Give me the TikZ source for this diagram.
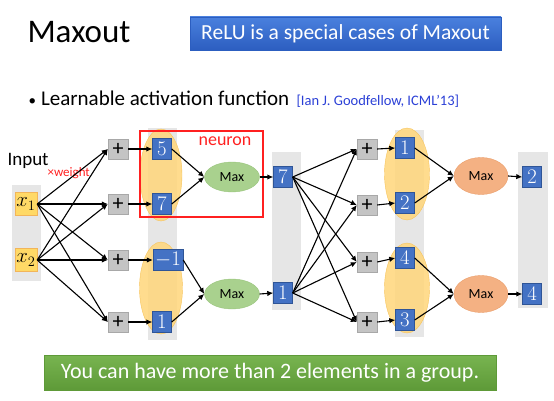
\documentclass[tikz,border=0pt]{standalone}
\usepackage{fontspec}
\setmainfont{Carlito}
\setsansfont{Carlito}
\usetikzlibrary{arrows.meta,positioning,shapes.geometric}
\definecolor{boxBlue}{HTML}{4472C4}
\definecolor{boxBlueDark}{HTML}{2F5597}
\definecolor{bandGray}{HTML}{E6E6E6}
\definecolor{plusGray}{HTML}{C4C4C4}
\definecolor{plusEdge}{HTML}{A8A8A8}
\definecolor{groupYellow}{HTML}{FFD67A}
\definecolor{groupEdge}{HTML}{F7C45C}
\definecolor{inYellow}{HTML}{FFD966}
\definecolor{inEdge}{HTML}{F2B55A}
\definecolor{maxGreen}{HTML}{A9D18E}
\definecolor{maxGreenEdge}{HTML}{98C47C}
\definecolor{maxOrange}{HTML}{F4B183}
\definecolor{maxOrangeEdge}{HTML}{EA9F6C}
\definecolor{citeBlue}{HTML}{2A3FD6}
\definecolor{neuronRed}{HTML}{FF2020}
\definecolor{titleBlueTop}{HTML}{4A80DE}
\definecolor{titleBlueBot}{HTML}{2C5EC0}
\definecolor{noteGreenTop}{HTML}{78B450}
\definecolor{noteGreenBot}{HTML}{5E9A38}

\begin{document}
\begin{tikzpicture}[
  x=1pt,y=-1pt,
  inbox/.style={draw=inEdge,fill=inYellow,minimum width=22,minimum height=23,inner sep=0pt,font=\fontsize{21}{22}\selectfont},
  plusbox/.style={draw=plusEdge,fill=plusGray,minimum width=20,minimum height=20,inner sep=0pt,font=\fontsize{22}{22}\selectfont},
  numbox/.style={draw=boxBlueDark,fill=boxBlue,text=white,minimum width=19,minimum height=21,inner sep=0pt,font=\fontsize{22}{22}\selectfont},
  group/.style={ellipse,draw=groupEdge,fill=groupYellow,fill opacity=.85,inner sep=0pt},
  maxg/.style={ellipse,draw=maxGreenEdge,fill=maxGreen,minimum width=55,minimum height=30,inner sep=0pt,font=\fontsize{14}{15}\selectfont},
  maxo/.style={ellipse,draw=maxOrangeEdge,fill=maxOrange,minimum width=54,minimum height=37,inner sep=0pt,font=\fontsize{14}{15}\selectfont},
  link/.style={-{Latex[length=6pt,width=5.5pt]},line width=1.1pt}
]
  \useasboundingbox (0,0) rectangle (554,401);

  % heading
  \node[anchor=base west,font=\fontsize{33}{36}\selectfont] (title) at (24,43) {Maxout};
  \node[top color=titleBlueTop,bottom color=titleBlueBot,draw=titleBlueBot,minimum width=311,minimum height=33,inner sep=0pt,text=white,font=\fontsize{21.5}{24}\selectfont] (relu) at (345.5,33.5) {ReLU is a special cases of Maxout};
  \node[anchor=base west,font=\fontsize{21}{24}\selectfont] (bullet) at (25,106) {{\fontsize{15}{15}\selectfont\textbullet}\hspace{5pt}Learnable activation function};
  \node[anchor=base west,text=citeBlue,font=\fontsize{14.5}{16}\selectfont] (cite) at (293,106) {[Ian J. Goodfellow, ICML’13]};

  % gray columns
  \fill[bandGray] (12,185) rectangle (41,281);
  \fill[bandGray] (148,128) rectangle (177,340);
  \fill[bandGray] (272,152) rectangle (301,310);
  \fill[bandGray] (395,130) rectangle (424,337);
  \fill[bandGray] (518,152) rectangle (548,308);

  % groups
  \node[group,minimum width=42,minimum height=92] (gA) at (161,175) {};
  \node[group,minimum width=43,minimum height=92] (gB) at (161,288) {};
  \node[group,minimum width=45,minimum height=92] (gC) at (407,174) {};
  \node[group,minimum width=45,minimum height=90] (gD) at (407,288) {};

  % input
  \node[anchor=base west,font=\fontsize{19}{20}\selectfont] (input) at (4,165) {Input};
  \node[anchor=west,text=neuronRed,font=\fontsize{13}{14}\selectfont] (weight) at (44,173) {×weight};
  \node[inbox] (x1) at (26,204) {$x_1$};
  \node[inbox] (x2) at (26,260) {$x_2$};

  % first layer
  \foreach \y [count=\j] in {149,204,260,322}
    \node[plusbox] (p\j) at (118,\y) {+};
  \node[numbox] (n11) at (162,149) {$5$};
  \node[numbox] (n12) at (162,204) {$7$};
  \node[numbox,minimum width=30] (n13) at (168,260) {$-1$};
  \node[numbox] (n14) at (162,322) {$1$};
  \node[maxg] (mA) at (232,177) {Max};
  \node[maxg] (mB) at (232,294) {Max};
  \draw[neuronRed,line width=1.6pt] (140,131) rectangle (263,217);
  \node[text=neuronRed,font=\fontsize{18}{19}\selectfont] (neuron) at (225,141) {neuron};
  \node[numbox] (h1) at (283,177) {$7$};
  \node[numbox] (h2) at (283,293) {$1$};

  % second layer
  \foreach \y [count=\j] in {149,205,262,322}
    \node[plusbox] (q\j) at (367,\y) {+};
  \foreach \y/\v [count=\j] in {148/1,203/2,258/4,320/3}
    \node[numbox] (n2\j) at (405,\y) {$\v$};
  \node[maxo] (mC) at (481,176) {Max};
  \node[maxo] (mD) at (481,294) {Max};
  \node[numbox] (o1) at (532,177) {$2$};
  \node[numbox] (o2) at (532,294) {$4$};

  % connectors
  \foreach \i in {1,2}
    \foreach \j in {1,...,4}
      \draw[link] (x\i.east) -- (p\j.west);
  \foreach \j in {1,...,4}
    \draw[link] (p\j.east) -- (n1\j.west);
  \draw[link] (n11.east) -- (mA.west);
  \draw[link] (n12.east) -- (mA.west);
  \draw[link] (n13.east) -- (mB.west);
  \draw[link] (n14.east) -- (mB.west);
  \draw[link] (mA.east) -- (h1.west);
  \draw[link] (mB.east) -- (h2.west);
  \foreach \i in {1,2}
    \foreach \j in {1,...,4}
      \draw[link] (h\i.east) -- (q\j.west);
  \foreach \j in {1,...,4}
    \draw[link] (q\j.east) -- (n2\j.west);
  \draw[link] (n21.east) -- (mC.west);
  \draw[link] (n22.east) -- (mC.west);
  \draw[link] (n23.east) -- (mD.west);
  \draw[link] (n24.east) -- (mD.west);
  \draw[link] (mC.east) -- (o1.west);
  \draw[link] (mD.east) -- (o2.west);

  % note
  \node[top color=noteGreenTop,bottom color=noteGreenBot,draw=noteGreenBot,minimum width=452,minimum height=35,inner sep=0pt,text=white,font=\fontsize{22}{24}\selectfont] (note) at (270,372.5) {You can have more than 2 elements in a group.};
\end{tikzpicture}
\end{document}
